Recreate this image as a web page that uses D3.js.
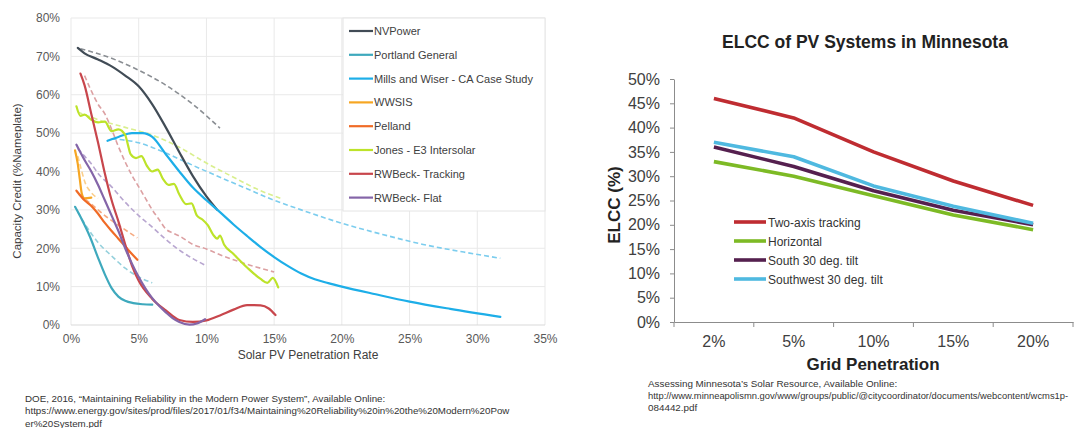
<!DOCTYPE html>
<html><head><meta charset="utf-8">
<script src="https://cdn.jsdelivr.net/npm/d3@7"></script>
<style>
html,body{margin:0;padding:0;background:#fff;}
svg{display:block;font-family:"Liberation Sans",Arial,sans-serif;}
</style></head>
<body><svg id="c" width="1083" height="428"></svg>
<script>
// ---------- LEFT CHART DATA: [penetration %, capacity credit %] ----------
const nvPower = [[0.5,72.2],[1,70.8],[2,69.2],[3,67.4],[4,65],[5,62.2],[6,57.5],[7,51.5],[8,45],[9,38.8],[10,33.5],[10.8,30]];
const nvPowerFit = [[0.7,72],[3,69.5],[5,66.4],[7,62.5],[9,57.5],[11,51.3]];
const portland = [[0.3,30.8],[0.8,27.5],[1.4,23],[2,17.5],[2.5,13.2],[3,9.6],[3.5,7.4],[4,6.3],[4.6,5.7],[5.3,5.4],[6,5.3]];
const portlandFit = [[0.5,29.5],[1,26.5],[2,21.5],[3,18],[4,14.8],[5,12.5],[6,11]];
const mills = [[2.7,48],[3.5,49],[4.5,50],[5.3,50],[6,49],[7,44.5],[8,40],[9,35.8],[10,32.5],[11,29.4],[12,26.2],[13,23.2],[14,20.3],[15,17.7],[16,15.4],[17,13.4],[18,11.9],[19,10.9],[20,10],[22.5,8],[25,6.1],[28,4.2],[31.7,2.1]];
const millsFit = [[3,48.5],[5,47.5],[7,44.8],[9,41.6],[11,38.5],[13,35.5],[15,32.5],[17,30],[20,26.5],[23,23.6],[26,21],[29,19],[31.7,17.4]];
const wwsis = [[0.3,45.5],[0.5,42],[0.65,38],[0.8,34.2],[1.0,33],[1.5,33.2]];
const wwsisFit = [[0.5,44],[0.8,40],[1.0,37.5],[1.5,34.5],[2.0,33]];
const pelland = [[0.4,35],[1,32.5],[1.5,31],[2,29],[2.5,26.6],[3,24.5],[3.5,22.5],[4,20.5],[4.5,18.5],[4.9,17]];
const pellandFit = [[0.6,34],[1.5,31.5],[2.5,28.5],[3.5,26],[4.9,22.7]];
const jones = [[0.4,57],[0.7,54.5],[1.0,54.8],[1.5,53.5],[2.0,52.8],[2.5,53],[3.0,50.5],[3.5,51],[4.0,49.5],[4.2,47],[4.4,44.5],[4.8,43.5],[5.2,44],[5.6,41.5],[6.0,40],[6.4,40.5],[6.8,38],[7.2,36.5],[7.6,36.8],[8.0,34],[8.5,31.5],[8.9,31.7],[9.3,28.5],[9.7,27.5],[10.1,26],[10.5,23.5],[10.8,22.5],[11.0,23.3],[11.3,21],[12,18.5],[13,15],[14,12],[14.5,11],[14.9,12.3],[15.3,9.8]];
const jonesFit = [[0.5,55.5],[2,53.5],[4,51.5],[6,49.5],[8,46.3],[10,42.2],[12,38.5],[14,35],[15.5,33]];
const rwTracking = [[0.7,65.5],[1,62.5],[1.5,55],[2,47.5],[2.5,39.5],[3,32.5],[3.5,27],[4,21],[4.5,15.5],[5,11.5],[6,6.8],[7,3.8],[8,1.3],[9,0.8],[10,1.2],[11,2.5],[12,4],[13,5.2],[14,5.1],[14.6,4.3],[15.1,2.6]];
const rwTrackingFit = [[1,65],[1.5,61],[2,57.5],[2.5,55],[3,51],[3.5,46.5],[4,42.5],[4.5,39],[5,36],[5.5,33],[6,30],[6.5,27.5],[7,25],[7.5,24],[8,23.2],[9,21],[10,19.8],[11,18.3],[12,17],[13,15.8],[14,14.8],[15,13.8]];
const rwFlat = [[0.4,47],[1,43],[1.5,40],[2,36.5],[2.5,32.5],[3,28.5],[3.5,24.5],[4,20],[4.5,16],[5,12.5],[5.5,9.5],[6,7],[6.5,5],[7,3.3],[7.5,1.8],[8,0.8],[8.75,0.1],[9.3,0.4],[9.9,1.5]];
const rwFlatFit = [[0.5,46],[1,44],[1.5,42],[2,39.5],[3,36],[4,32],[5,28.5],[6,25.5],[7,22.3],[8,19.5],[9,17.3],[9.9,15.6]];

const leftNames = ["NVPower","Portland General","Mills and Wiser - CA Case Study","WWSIS","Pelland","Jones - E3 Intersolar","RWBeck- Tracking","RWBeck- Flat"];
const leftSolid = [nvPower, portland, mills, wwsis, pelland, jones, rwTracking, rwFlat];
const leftDashed = [nvPowerFit, portlandFit, millsFit, wwsisFit, pellandFit, jonesFit, rwTrackingFit, rwFlatFit];
const leftColors = ["#414c56","#3ea9bd","#1daee8","#f6a623","#f06b26","#bde32a","#c8464c","#8465a8"];
const leftDashColors = ["#8a8e93","#94d0dc","#7ccdee","#fbcf8c","#f6ab82","#d9ef8e","#dca0a2","#b8a6d0"];
const leftXTicks = [0,5,10,15,20,25,30,35];
const leftYTicks = [0,10,20,30,40,50,60,70,80];

// ---------- RIGHT CHART DATA ----------
const gridCats = ["2%","5%","10%","15%","20%"];
const twoAxis = [46,42,35,29,24];
const horizontal = [33,30,26,22,19];
const south30 = [36,32,27,23,20];
const southwest30 = [37,34,28,23.8,20.3];
const rightNames = ["Two-axis tracking","Horizontal","South 30 deg. tilt","Southwest 30 deg. tilt"];
const rightSeries = [twoAxis, horizontal, south30, southwest30];
const rightColors = ["#bf2c31","#7dba25","#55204f","#4fb9e0"];
const rightYTicks = [0,5,10,15,20,25,30,35,40,45,50];

const svg = d3.select("#c");

// ================= LEFT CHART =================
const lx = d3.scaleLinear().domain([0,35]).range([71,545]);
const ly = d3.scaleLinear().domain([0,80]).range([325,18]);
const L = svg.append("g");

L.append("g").selectAll("line.v").data(leftXTicks).join("line")
  .attr("x1",d=>lx(d)).attr("x2",d=>lx(d)).attr("y1",ly(80)).attr("y2",ly(0))
  .attr("stroke","#e9e9e9").attr("stroke-width",1);
L.append("g").selectAll("line.h").data(leftYTicks).join("line")
  .attr("x1",lx(0)).attr("x2",lx(35)).attr("y1",d=>ly(d)).attr("y2",d=>ly(d))
  .attr("stroke",d=>d===0?"#d9d9d9":"#e9e9e9").attr("stroke-width",1);

const ax1 = L.append("g").attr("transform",`translate(0,${ly(0)})`)
  .call(d3.axisBottom(lx).tickValues(leftXTicks).tickFormat(d=>d+"%").tickSize(0).tickPadding(9));
ax1.select(".domain").remove();
ax1.selectAll("text").attr("font-size","12px").attr("fill","#595959").attr("font-family","Liberation Sans, Arial, sans-serif");
const ay1 = L.append("g").attr("transform",`translate(${lx(0)},0)`)
  .call(d3.axisLeft(ly).tickValues(leftYTicks).tickFormat(d=>d+"%").tickSize(0).tickPadding(11));
ay1.select(".domain").remove();
ay1.selectAll("text").attr("font-size","12px").attr("fill","#595959").attr("font-family","Liberation Sans, Arial, sans-serif");

L.append("text").attr("x",308).attr("y",359).attr("text-anchor","middle")
  .attr("font-size","12px").attr("fill","#404040").text("Solar PV Penetration Rate");
L.append("text").attr("transform","translate(21,181) rotate(-90)").attr("text-anchor","middle")
  .attr("font-size","11.5px").attr("fill","#404040").text("Capacity Credit (%Nameplate)");

const legG = L.append("g");
legG.append("rect").attr("x",343).attr("y",18).attr("width",202).attr("height",193)
  .attr("fill","#fff").attr("stroke","#e4e4e4");

const lineL = d3.line().x(d=>lx(d[0])).y(d=>ly(d[1])).curve(d3.curveMonotoneX);
L.append("g").selectAll("path").data(leftDashed).join("path")
  .attr("d",lineL).attr("fill","none")
  .attr("stroke",(d,i)=>leftDashColors[i]).attr("stroke-width",1.6)
  .attr("stroke-dasharray","5,3");
L.append("g").selectAll("path").data(leftSolid).join("path")
  .attr("d",lineL).attr("fill","none")
  .attr("stroke",(d,i)=>leftColors[i]).attr("stroke-width",2.2)
  .attr("stroke-linejoin","round").attr("stroke-linecap","round");

leftNames.forEach((n,i)=>{
  const y = 31 + i*23.8;
  legG.append("line").attr("x1",349).attr("x2",373).attr("y1",y).attr("y2",y)
    .attr("stroke",leftColors[i]).attr("stroke-width",2.2);
  legG.append("text").attr("x",374).attr("y",y+4).attr("font-size","11px")
    .attr("fill","#404040").text(n);
});

const srcL = ["DOE, 2016, \u201cMaintaining Reliability in the Modern Power System\u201d, Available Online:",
  "https://www.energy.gov/sites/prod/files/2017/01/f34/Maintaining%20Reliability%20in%20the%20Modern%20Pow",
  "er%20System.pdf"];
srcL.forEach((t,i)=>{
  svg.append("text").attr("x",25).attr("y",402+i*12.3).attr("font-size","9.75px")
    .attr("fill","#333").text(t);
});

// ================= RIGHT CHART =================
const rx = d3.scaleBand().domain(gridCats).range([674,1073]);
const ry = d3.scaleLinear().domain([0,50]).range([322,79]);
const R = svg.append("g");

R.append("text").attr("x",865).attr("y",48).attr("text-anchor","middle")
  .attr("font-size","17.5px").attr("font-weight","bold").attr("fill","#222")
  .text("ELCC of PV Systems in Minnesota");

const ay2 = R.append("g").attr("transform",`translate(674,0)`)
  .call(d3.axisLeft(ry).tickValues(rightYTicks).tickFormat(d=>d+"%").tickSizeInner(4).tickSizeOuter(0).tickPadding(10));
ay2.select(".domain").attr("stroke","#8c8c8c");
ay2.selectAll(".tick line").attr("stroke","#8c8c8c");
ay2.selectAll("text").attr("font-size","16px").attr("fill","#404040").attr("font-family","Liberation Sans, Arial, sans-serif");

const ax2 = R.append("g").attr("transform",`translate(0,322)`)
  .call(d3.axisBottom(rx).tickSize(0).tickPadding(14));
ax2.select(".domain").attr("stroke","#8c8c8c");
ax2.selectAll("text").attr("font-size","16px").attr("fill","#404040").attr("font-family","Liberation Sans, Arial, sans-serif");
const bounds = gridCats.map(c=>rx(c)).concat([rx(gridCats[gridCats.length-1])+rx.bandwidth()]);
R.append("g").selectAll("line").data(bounds).join("line")
  .attr("x1",d=>d).attr("x2",d=>d).attr("y1",322).attr("y2",327)
  .attr("stroke","#8c8c8c");

R.append("text").attr("x",873).attr("y",370).attr("text-anchor","middle")
  .attr("font-size","17px").attr("font-weight","bold").attr("fill","#222").text("Grid Penetration");
R.append("text").attr("transform","translate(620,205) rotate(-90)").attr("text-anchor","middle")
  .attr("font-size","17px").attr("font-weight","bold").attr("fill","#222").text("ELCC (%)");

const lineR = d3.line().x((d,i)=>rx(gridCats[i])+rx.bandwidth()/2).y(d=>ry(d));
R.append("g").selectAll("path").data(rightSeries).join("path")
  .attr("d",lineR).attr("fill","none")
  .attr("stroke",(d,i)=>rightColors[i]).attr("stroke-width",3.6)
  .attr("stroke-linejoin","round");

rightNames.forEach((n,i)=>{
  const y = 222 + i*19;
  R.append("line").attr("x1",734).attr("x2",766).attr("y1",y).attr("y2",y)
    .attr("stroke",rightColors[i]).attr("stroke-width",3.6);
  R.append("text").attr("x",768).attr("y",y+4.5).attr("font-size","12px")
    .attr("fill","#333").text(n);
});

const srcR = ["Assessing Minnesota\u2019s Solar Resource, Available Online:",
  "http://www.minneapolismn.gov/www/groups/public/@citycoordinator/documents/webcontent/wcms1p-",
  "084442.pdf"];
srcR.forEach((t,i)=>{
  svg.append("text").attr("x",648).attr("y",387+i*12.2).attr("font-size",i===1?"9.4px":"9.85px")
    .attr("fill","#333").text(t);
});
</script>
</body></html>
